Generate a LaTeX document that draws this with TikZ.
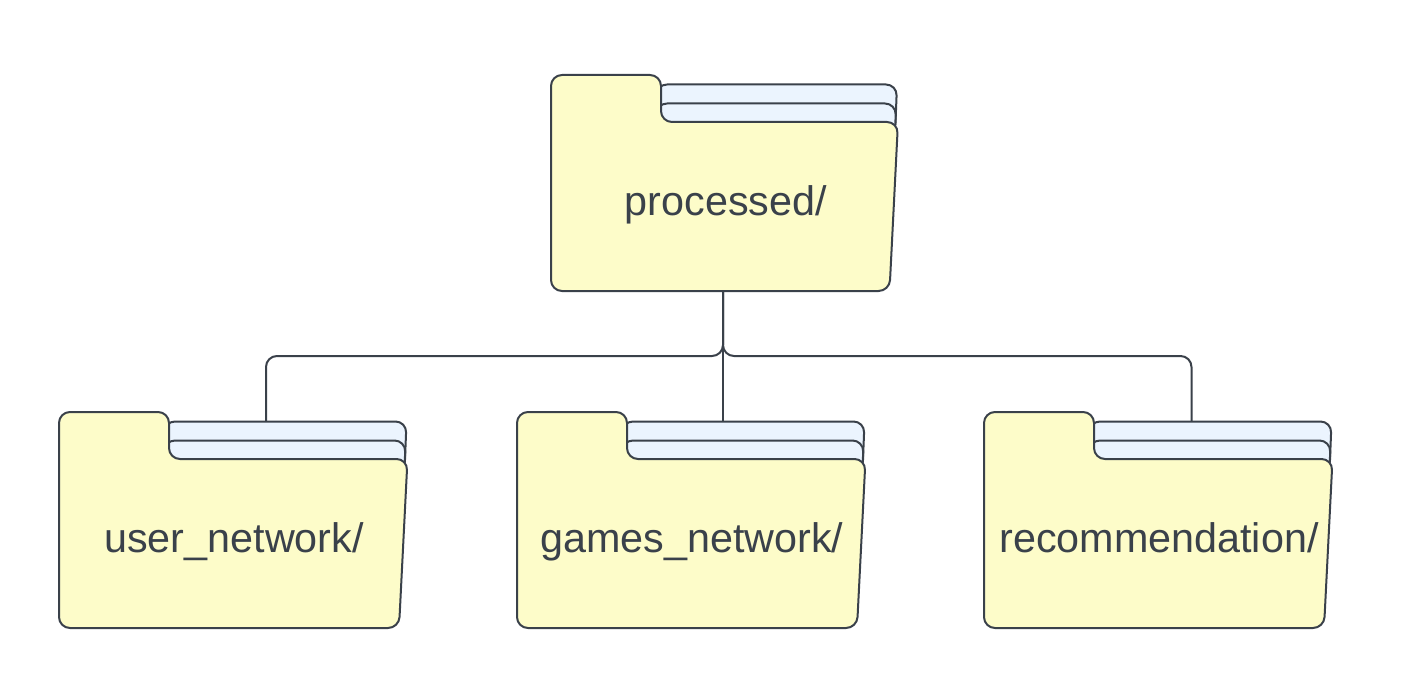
\documentclass[tikz,border=0pt]{standalone}
\usetikzlibrary{calc}
\usepackage{fontspec}
\setmainfont{Liberation Sans}
\definecolor{strokec}{HTML}{3A414A}
\definecolor{folderc}{HTML}{FDFCC9}
\definecolor{rearc}{HTML}{EBF4FE}
\tikzset{
  folderfront/.style={draw=strokec,fill=folderc,line width=2pt,rounded corners=11pt,line join=round},
  folderrear/.style={draw=strokec,fill=rearc,line width=2pt,rounded corners=11pt,line join=round},
  folderlabel/.style={text=strokec,font=\fontsize{41.3}{48}\selectfont,anchor=base,inner sep=0pt},
  link/.style={draw=strokec,line width=2pt,rounded corners=11pt}
}
% name, x, y, extra width, port x, label
\newcommand{\folderpic}[6]{%
  \begin{scope}[shift={(#2,#3)}]
    \path[folderrear] (105,9.5) -- (346+#4,9.5) -- (344+#4,60) -- (105,60) -- cycle;
    \path[folderrear] (105,28.5) -- (345+#4,28.5) -- (344+#4,60) -- (105,60) -- cycle;
    \path[folderfront] (0,0) -- (110,0) -- (110,47) -- (347+#4,47) -- (338.5+#4,216) -- (0,216) -- cycle;
    \node[folderlabel] (#1) at (175,140) {#6};
    \coordinate (#1-top) at (#5,9.5);
    \coordinate (#1-bottom) at (172,216);
  \end{scope}}
\begin{document}
\begin{tikzpicture}[x=1pt,y=-1pt]
  \useasboundingbox (0,0) rectangle (1412,698);
  \folderpic{proc}{551}{75}{0}{172.5}{processed/}
  \folderpic{user}{59}{412}{1.5}{207}{user\_network/}
  \folderpic{games}{517}{412}{1.5}{206}{games\_network/}
  \folderpic{rec}{984}{412}{1.5}{207.5}{recommendation/}
  \coordinate (branch) at ($(proc-bottom)+(0,65)$);
  \draw[link] (proc-bottom) -- (branch) -| (user-top);
  \draw[link] (proc-bottom) -- (branch) -| (rec-top);
  \draw[link] (proc-bottom) -- (games-top);
\end{tikzpicture}
\end{document}
